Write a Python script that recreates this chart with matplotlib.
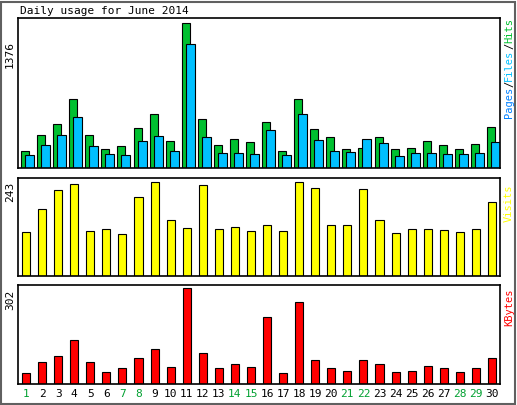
import matplotlib
matplotlib.use("Agg")
import matplotlib.pyplot as plt
import numpy as np

days = list(range(1, 31))
hits = [161,313,418,655,313,180,209,380,512,256,1376,465,218,275,247,437,161,655,370,294,180,190,294,180,190,256,218,180,228,389]
files = [123,218,313,484,209,133,123,256,304,161,1177,294,142,142,133,361,123,512,266,161,152,275,237,114,142,142,133,133,142,247]
visits = [114,173,222,238,116,121,109,204,243,145,124,235,121,127,116,132,116,243,227,132,132,225,145,111,121,121,119,114,121,191]
kbytes = [36,68,87,140,68,39,49,83,112,55,302,99,52,64,55,213,36,258,77,49,42,77,64,39,42,58,49,39,49,83]
weekends = [1,7,8,14,15,21,22,28,29]

W, H = 517, 405
fig = plt.figure(figsize=(W/100, H/100), dpi=100)
fig.patch.set_facecolor("white")
mono = "DejaVu Sans Mono"
# outer border
fig.add_artist(plt.Rectangle((1/W, 1/H), (W-3)/W, (H-3)/H, transform=fig.transFigure,
                             fill=False, edgecolor="#606060", lw=1.5))

def panel(y0, y1):
    ax = fig.add_axes([18/W, 1-y1/H, (500-18)/W, (y1-y0)/H])
    ax.set_xlim(0.5, 30.5)
    ax.set_xticks([]); ax.set_yticks([])
    for s in ax.spines.values():
        s.set_linewidth(1.2)
    return ax

x = np.array(days)
ax1 = panel(18, 168)
ax1.bar(x-0.31, hits, width=0.5, align="edge", color="#00C030", edgecolor="black", lw=0.8)
ax1.bar(x-0.06, files, width=0.56, align="edge", color="#00C0FF", edgecolor="black", lw=0.8)
ax1.set_ylim(0, 1376/0.965)
fig.text(10/W, 1-55/H, "1376", rotation=90, ha="center", va="center", family=mono, fontsize=8)
fig.text(20/W, 1-11/H, "Daily usage for June 2014", ha="left", va="center", family=mono, fontsize=8)
# right label
yy = 1-118/H
for txt, col in [("Pages", "#0080FF"), ("/", "black"), ("Files", "#00C0FF"), ("/", "black"), ("Hits", "#00C030")]:
    t = fig.text(509/W, yy, txt, rotation=90, ha="center", va="bottom", family=mono, fontsize=7.5, color=col)
    fig.canvas.draw()
    bb = t.get_window_extent()
    yy += bb.height / H

ax2 = panel(178, 276)
ax2.bar(x, visits, width=0.5, color="#FFFF00", edgecolor="black", lw=0.8)
ax2.set_ylim(0, 243/0.96)
fig.text(10/W, 1-192/H, "243", rotation=90, ha="center", va="center", family=mono, fontsize=8)
fig.text(509/W, 1-203/H, "Visits", rotation=90, ha="center", va="center", family=mono, fontsize=7.5, color="#FFFF00")

ax3 = panel(285, 384)
ax3.bar(x, kbytes, width=0.5, color="#FF0000", edgecolor="black", lw=0.8)
ax3.set_ylim(0, 302/0.965)
fig.text(10/W, 1-300/H, "302", rotation=90, ha="center", va="center", family=mono, fontsize=8)
fig.text(509/W, 1-307/H, "KBytes", rotation=90, ha="center", va="center", family=mono, fontsize=7.5, color="#FF0000")

for d in days:
    px = 18 + (d - 0.5) / 30 * (500 - 18)
    fig.text(px/W, 1-394/H, str(d), ha="center", va="center", family=mono, fontsize=8,
             color="#00A030" if d in weekends else "black")

fig.savefig("out.png", dpi=100)
